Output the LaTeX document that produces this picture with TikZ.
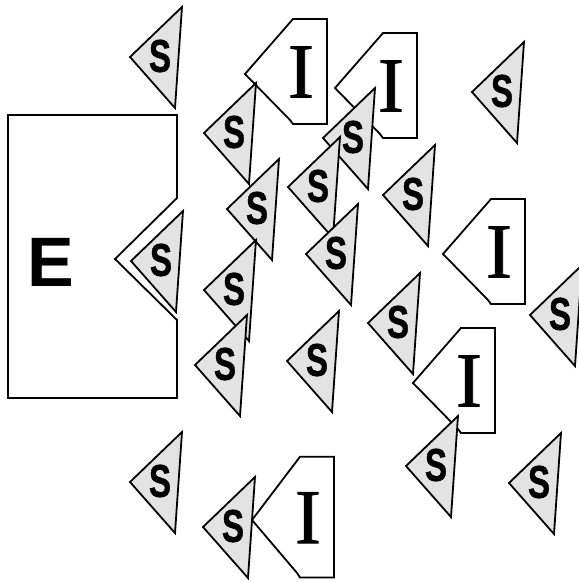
\documentclass[tikz,border=0pt]{standalone}
\usepackage{fontspec}
\setmainfont{Liberation Serif}
\setsansfont{Liberation Sans}
\newfontfamily\subfont{Liberation Sans}[BoldFeatures={FakeBold=1.2}]
\newfontfamily\inhfont{Liberation Serif}[FakeBold=1]
\usetikzlibrary{positioning}
\definecolor{subgray}{HTML}{E3E3E3}

\begin{document}
\begin{tikzpicture}[x=1pt, y=-1pt,
  outline/.style={draw=black, line width=1.8pt, line join=miter},
  sublbl/.style={font=\subfont\bfseries\fontsize{46}{46}\selectfont, inner sep=0pt},
  inhlbl/.style={font=\inhfont\fontsize{78}{78}\selectfont, inner sep=0pt},
  enzlbl/.style={font=\sffamily\bfseries\fontsize{70}{70}\selectfont, inner sep=0pt},
  subst/.pic={
    \draw[outline, fill=subgray] (0,0) -- (52,-50) -- (45,51) -- cycle;
    \node[sublbl] (-lbl) at (30,-1) {\scalebox{0.72}[1]{S}};
  },
  inhib/.pic={
    \draw[outline, fill=white] (0,0) -- (48,-55) -- (82,-55) -- (82,50) -- (48,50) -- (45,46) -- cycle;
    \node[inhlbl] (-lbl) at (56,-2) {I};
  },
]
\useasboundingbox (0,0) rectangle (579,582);

% enzyme with its pocket
\draw[outline, fill=white] (8,115) -- (177,115) -- (177,198) -- (115,259)
  -- (177,320) -- (177,398) -- (8,398) -- cycle;
\node[enzlbl] (enz) at (51,262) {E};

% inhibitors
\foreach \px/\py [count=\k] in {245/74, 335/88, 443/254, 413/383} {
  \pic (i\k) at (\px,\py) {inhib};
}
\pic[yscale=1.15] (i5) at (252,520) {inhib};

% substrates, back to front
\foreach \px/\py [count=\k] in {%
  130/57, 472/92, 204/133, 323/138, 288/187, 383/195,
  227/209, 131/261, 306/254, 204/290, 530/315, 368/323,
  287/361, 195/365, 406/466, 130/482, 509/483, 203/527%
} {
  \pic (s\k) at (\px,\py) {subst};
}
\end{tikzpicture}
\end{document}
